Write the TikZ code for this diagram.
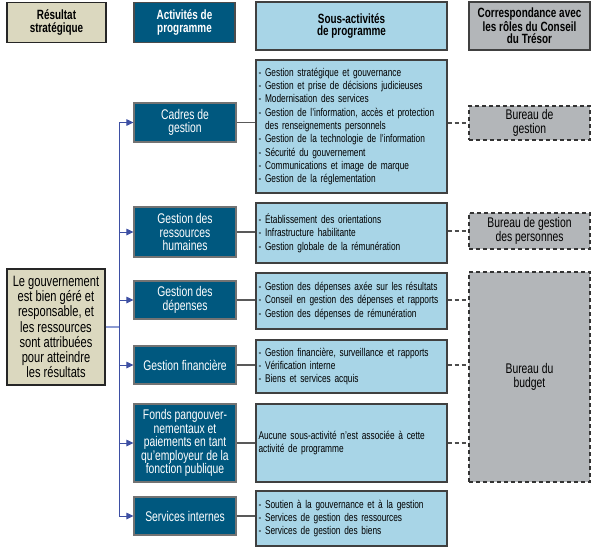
\documentclass[tikz,border=0pt]{standalone}
\usepackage{fontspec}
\setmainfont{Liberation Sans}[FakeStretch=0.74]
\usetikzlibrary{arrows.meta}
\definecolor{tan}{HTML}{DBD8BF}
\definecolor{dblue}{HTML}{00587F}
\definecolor{lblue}{HTML}{A8D5E7}
\definecolor{lgray}{HTML}{B3B6B9}
\definecolor{arrblue}{HTML}{3D4FA3}
\definecolor{lineblue}{HTML}{8C9BD2}
\tikzset{
  hdrtan/.style={draw=black!85, line width=1.1pt, fill=tan, minimum width=99pt, minimum height=40pt, inner sep=0pt, align=center, font=\fontsize{13.4}{12.4}\selectfont\bfseries},
  hdrblue/.style={hdrtan, fill=dblue, draw=black!70, text=white},
  hdrlb/.style={hdrtan, fill=lblue, draw=black!75, minimum width=191pt, minimum height=48pt},
  hdrgray/.style={hdrtan, fill=lgray, draw=black!75, minimum width=121pt, minimum height=48pt},
  actbox/.style={draw=black!55, line width=1.1pt, fill=dblue, text=white, minimum width=102pt, inner sep=0pt, align=center, font=\fontsize{14}{13.4}\selectfont},
  subbox/.style={draw=black!75, line width=1.1pt, fill=lblue, text width=186pt, inner xsep=2.5pt, inner ysep=0pt, align=left, font=\fontsize{11.25}{13.3}\selectfont},
  burbox/.style={draw=black!80, line width=1.1pt, dash pattern=on 4pt off 3pt, fill=lgray, minimum width=121pt, inner sep=0pt, align=center, font=\fontsize{14}{13.4}\selectfont},
  govbox/.style={draw=black!85, line width=1.1pt, fill=tan, minimum width=98pt, minimum height=116pt, inner sep=0pt, align=center, font=\fontsize{15}{15.3}\selectfont},
  link/.style={draw=black!65, line width=1.1pt},
  dlink/.style={draw=black!70, line width=1.1pt, dash pattern=on 4pt off 3pt},
  arr/.style={draw=arrblue, line width=1pt, -{Triangle[length=7pt,width=6.5pt]}},
}
\begin{document}
\begin{tikzpicture}[x=1pt,y=-1pt]
\useasboundingbox (0,0) rectangle (595,550);
% headers
\node[hdrtan] (res) at (56.5,22.5) {Résultat\\stratégique};
\node[hdrblue, minimum width=101pt] (act) at (184.5,22.5) {Activités de\\programme};
\node[hdrlb] (sact) at (351.5,26) {Sous-activités\\de programme};
\node[hdrgray] (corr) at (529.5,26) {Correspondance avec\\les rôles du Conseil\\du Trésor};
% outcome
\node[govbox] (gov) at (56,327) {Le gouvernement\\est bien géré et\\responsable, et\\les ressources\\sont attribuées\\pour atteindre\\les résultats};
% activities
\node[actbox, minimum height=39pt] (cadres) at (185,122.5) {Cadres de\\gestion};
\node[actbox, minimum height=50pt] (rh) at (185,232) {Gestion des\\ressources\\humaines};
\node[actbox, minimum height=38pt] (dep) at (185,300) {Gestion des\\dépenses};
\node[actbox, minimum height=38pt] (fin) at (185,365) {Gestion financière};
\node[actbox, minimum height=78pt] (fonds) at (185,443) {Fonds pangouver-\\nementaux et\\paiements en tant\\qu’employeur de la\\fonction publique};
\node[actbox, minimum height=38pt] (si) at (185,516) {Services internes};
% sub-activities
\node[subbox, minimum height=133pt] (s1) at (351.5,126.5) {- Gestion stratégique et gouvernance\\- Gestion et prise de décisions judicieuses\\- Modernisation des services\\- Gestion de l’information, accès et protection\\\hphantom{-}\ des renseignements personnels\\- Gestion de la technologie de l’information\\- Sécurité du gouvernement\\- Communications et image de marque\\- Gestion de la réglementation};
\node[subbox, minimum height=60pt] (s2) at (351.5,233) {- Établissement des orientations\\- Infrastructure habilitante\\- Gestion globale de la rémunération};
\node[subbox, minimum height=56pt] (s3) at (351.5,301) {- Gestion des dépenses axée sur les résultats\\- Conseil en gestion des dépenses et rapports\\- Gestion des dépenses de rémunération};
\node[subbox, minimum height=53pt] (s4) at (351.5,366.5) {- Gestion financière, surveillance et rapports\\- Vérification interne\\- Biens et services acquis};
\node[subbox, minimum height=78pt] (s5) at (351.5,443) {Aucune sous-activité n’est associée à cette\\activité de programme};
\node[subbox, minimum height=55pt] (s6) at (351.5,518.5) {- Soutien à la gouvernance et à la gestion\\- Services de gestion des ressources\\- Services de gestion des biens};
% bureaus
\node[burbox, minimum height=34pt] (b1) at (529.5,123) {Bureau de\\gestion};
\node[burbox, minimum height=36pt] (b2) at (529.5,231) {Bureau de gestion\\des personnes};
\node[burbox, minimum height=210pt] (b3) at (529.5,377) {Bureau du\\budget};
% tree
\coordinate (vtop) at (119,122.5);
\coordinate (vbot) at (119,516);
\draw[draw=lineblue, line width=1.3pt] (gov.east) -- (gov.east -| vtop);
\draw[draw=arrblue, line width=1pt] (vtop) -- (vbot);
\foreach \n in {cadres,rh,dep,fin,fonds,si}{
  \draw[arr] (\n.west -| vtop) -- (\n.west);
}
% activity to sub-activity
\foreach \a/\s in {cadres/s1,rh/s2,dep/s3,fin/s4,fonds/s5,si/s6}{
  \draw[link] (\a.east) -- (\a.east -| \s.west);
}
% dashed correspondences
\draw[dlink] (b1.west -| s1.east) -- (b1.west);
\draw[dlink] (b2.west -| s2.east) -- (b2.west);
\draw[dlink] (dep.east -| s3.east) -- (dep.east -| b3.west);
\draw[dlink] (fin.east -| s4.east) -- (fin.east -| b3.west);
\draw[dlink] (fonds.east -| s5.east) -- (fonds.east -| b3.west);
\end{tikzpicture}
\end{document}
